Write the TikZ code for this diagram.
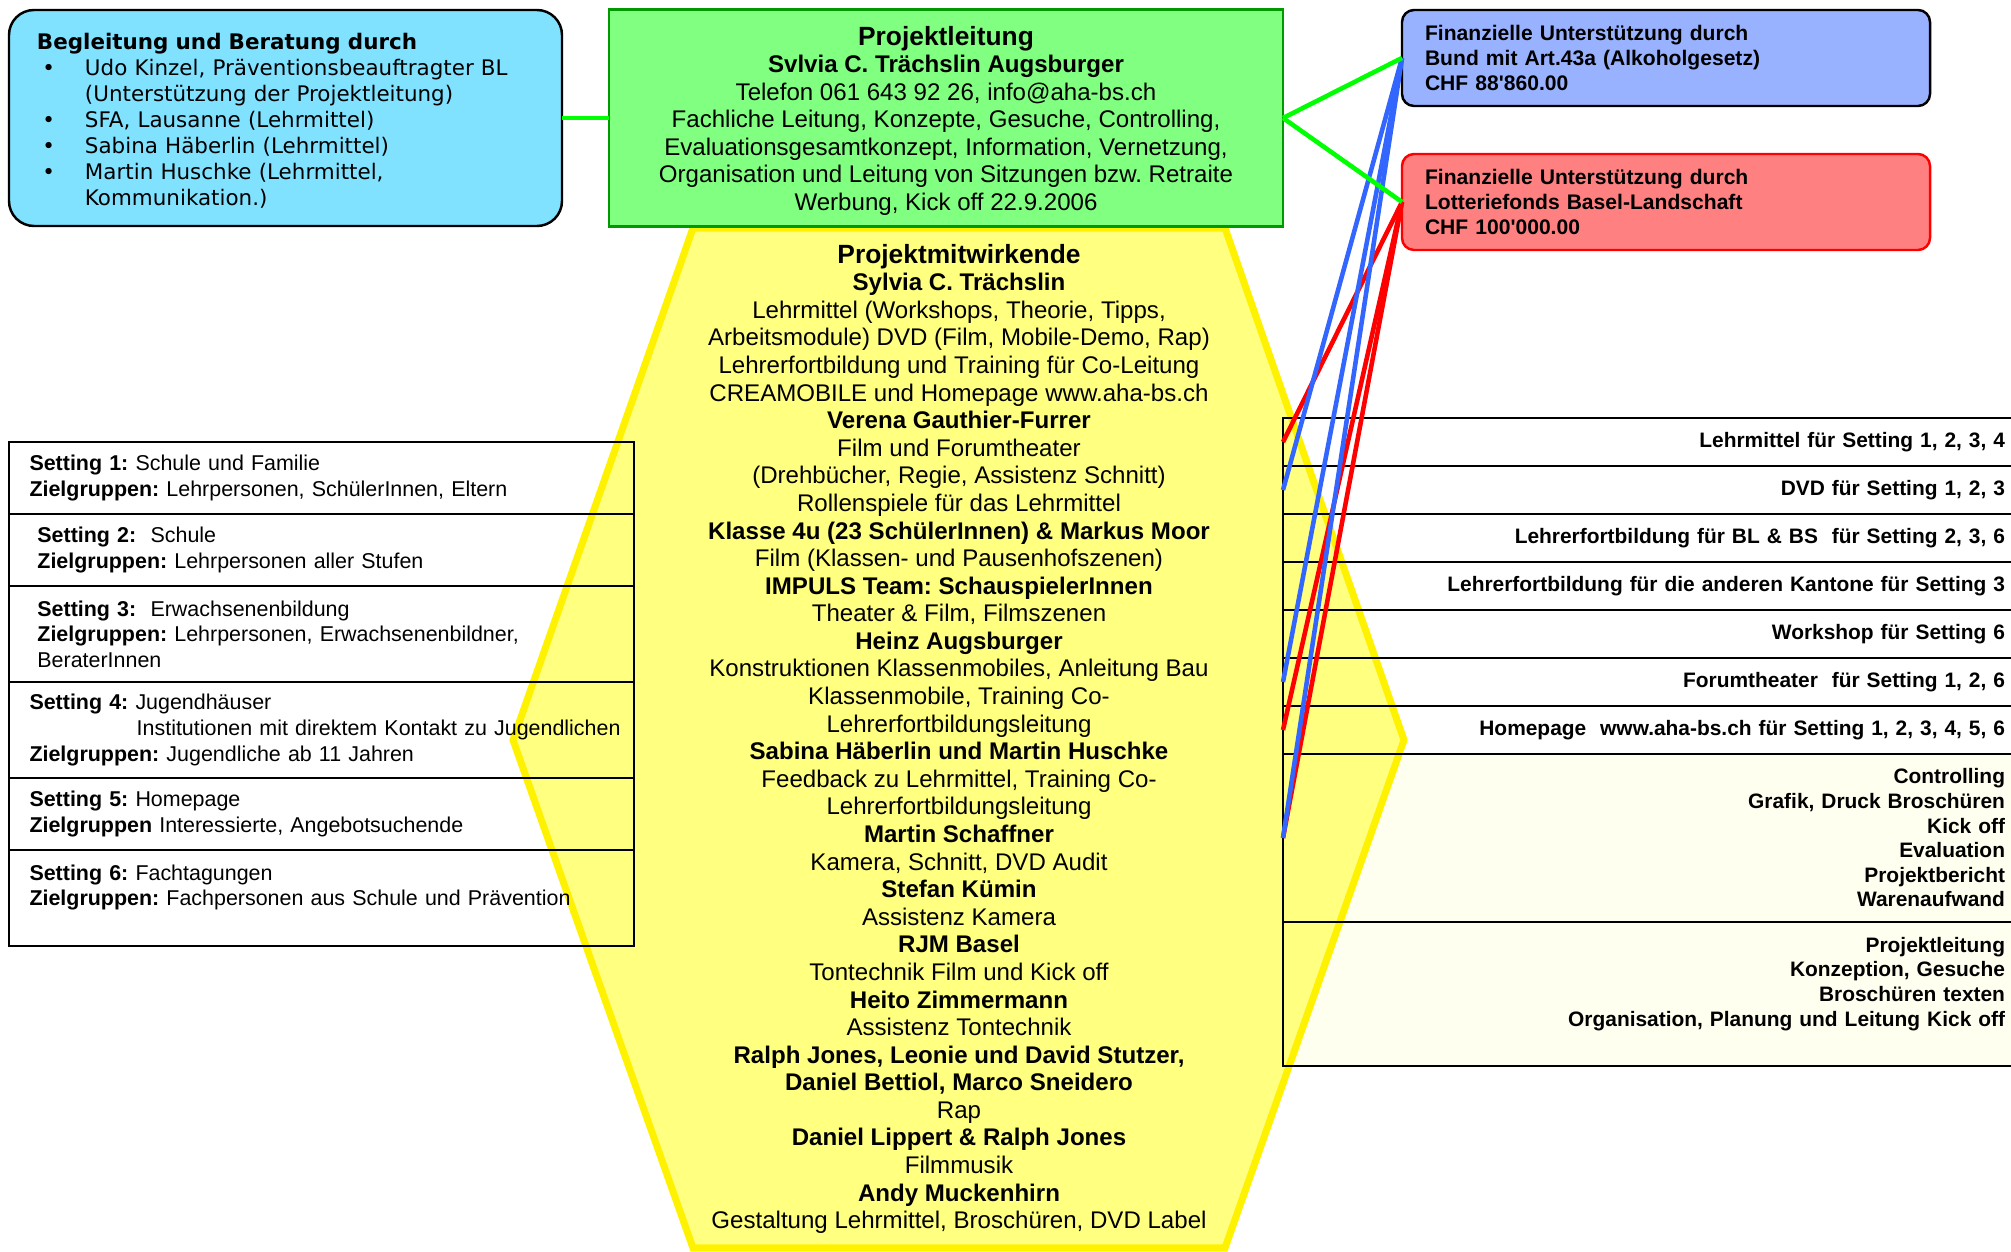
\documentclass[tikz,border=0pt]{standalone}
\usepackage{fontspec}
\setmainfont{Liberation Sans}[Ligatures=TeXOff]
\newfontfamily\verdana{DejaVu Sans}
\usepackage{tikz}
\usetikzlibrary{positioning}
\pgfdeclarelayer{bg}
\pgfsetlayers{bg,main}
\definecolor{cyanbox}{RGB}{128,226,255}
\definecolor{greenbox}{RGB}{128,255,128}
\definecolor{greenedge}{RGB}{0,153,0}
\definecolor{bundblue}{RGB}{153,178,255}
\definecolor{lottored}{RGB}{255,128,128}
\definecolor{hexfill}{RGB}{255,255,128}
\definecolor{ivory}{RGB}{255,255,240}
\definecolor{linkblue}{RGB}{51,102,255}
\frenchspacing

\begin{document}
\begin{tikzpicture}[x=0.2mm, y=-0.2mm, node distance=9.4mm,
    every node/.style={outer sep=0pt},
    begbox/.style={draw, line width=1.4pt, rounded corners=5mm, fill=cyanbox, minimum width=110.6mm, minimum height=43.2mm, text width=99.4mm, inner xsep=5.6mm, align=left, font=\verdana\fontsize{12.2}{14.8}\selectfont},
    plbox/.style={draw=greenedge, line width=1.2pt, fill=greenbox, minimum width=134.8mm, minimum height=43.4mm, align=center, font=\fontsize{13.7}{15.7}\selectfont},
    fundbox/.style={draw, line width=1.4pt, rounded corners=2.4mm, minimum width=105.6mm, minimum height=19.2mm, text width=96.4mm, inner xsep=4.6mm, align=left, font=\bfseries\fontsize{12}{14}\selectfont},
    setbox/.style={draw, line width=1.5pt, minimum width=125mm, text width=116.8mm, inner xsep=4.1mm, align=left, font=\fontsize{12.2}{14.6}\selectfont},
    rowbox/.style={draw, line width=1.5pt, minimum width=146.6mm, minimum height=9.6mm, text width=142.2mm, inner xsep=2.2mm, align=right, font=\bfseries\fontsize{11.9}{14}\selectfont},
    hexa/.style={draw=yellow, line width=4pt, fill=hexfill, line join=miter},
    hextext/.style={align=center, inner sep=0pt, font=\fontsize{13.7}{15.7}\selectfont},
    link/.style={line width=2.6pt}]
    \useasboundingbox (0,0) rectangle (2011,1252);

    % Hexagon
    \draw[hexa] (693,228) -- (1225,228) -- (1404,740) -- (1225,1248) -- (693,1248) -- (513,740) -- cycle;
    \node[hextext, anchor=north] (mitw) at (959,244) {{\bfseries\fontsize{15}{15.7}\selectfont Projektmitwirkende}\\
        \textbf{Sylvia C. Trächslin}\\
        Lehrmittel (Workshops, Theorie, Tipps,\\
        Arbeitsmodule) DVD (Film, Mobile-Demo, Rap)\\
        Lehrerfortbildung und Training für Co-Leitung\\
        CREAMOBILE und Homepage www.aha-bs.ch\\
        \textbf{Verena Gauthier-Furrer}\\
        Film und Forumtheater\\
        (Drehbücher, Regie, Assistenz Schnitt)\\
        Rollenspiele für das Lehrmittel\\
        \textbf{Klasse 4u (23 SchülerInnen) \& Markus Moor}\\
        Film (Klassen- und Pausenhofszenen)\\
        \textbf{IMPULS Team: SchauspielerInnen}\\
        Theater \& Film, Filmszenen\\
        \textbf{Heinz Augsburger}\\
        Konstruktionen Klassenmobiles, Anleitung Bau\\
        Klassenmobile, Training Co-\\
        Lehrerfortbildungsleitung\\
        \textbf{Sabina Häberlin und Martin Huschke}\\
        Feedback zu Lehrmittel, Training Co-\\
        Lehrerfortbildungsleitung\\
        \textbf{Martin Schaffner}\\
        Kamera, Schnitt, DVD Audit\\
        \textbf{Stefan Kümin}\\
        Assistenz Kamera\\
        \textbf{RJM Basel}\\
        Tontechnik Film und Kick off\\
        \textbf{Heito Zimmermann}\\
        Assistenz Tontechnik\\
        \textbf{Ralph Jones, Leonie und David Stutzer,}\\
        \textbf{Daniel Bettiol, Marco Sneidero}\\
        Rap\\
        \textbf{Daniel Lippert \& Ralph Jones}\\
        Filmmusik\\
        \textbf{Andy Muckenhirn}\\
        Gestaltung Lehrmittel, Broschüren, DVD Label};

    % Top boxes
    \node[begbox] (beg) at (285.5,118) {\rule{0pt}{12.5pt}\textbf{Begleitung und Beratung durch}\\
        \hspace*{3pt}\makebox[24.3pt][l]{•}Udo Kinzel, Präventionsbeauftragter BL\\
        \hspace*{27.3pt}(Unterstützung der Projektleitung)\\
        \hspace*{3pt}\makebox[24.3pt][l]{•}SFA, Lausanne (Lehrmittel)\\
        \hspace*{3pt}\makebox[24.3pt][l]{•}Sabina Häberlin (Lehrmittel)\\
        \hspace*{3pt}\makebox[24.3pt][l]{•}Martin Huschke (Lehrmittel,\\
        \hspace*{27.3pt}Kommunikation.)};
    \node[plbox, right=of beg] (pl) {\rule{0pt}{14pt}{\bfseries\fontsize{15}{15.7}\selectfont Projektleitung}\\
        \textbf{Svlvia C. Trächslin Augsburger}\\
        Telefon 061 643 92 26, info@aha-bs.ch\\
        Fachliche Leitung, Konzepte, Gesuche, Controlling,\\
        Evaluationsgesamtkonzept, Information, Vernetzung,\\
        Organisation und Leitung von Sitzungen bzw. Retraite\\
        Werbung, Kick off 22.9.2006};
    \node[fundbox, fill=bundblue, anchor=north west] (bund) at (1402,10) {Finanzielle Unterstützung durch\\
        Bund mit Art.43a (Alkoholgesetz)\\
        CHF 88'860.00};
    \node[fundbox, fill=lottored, draw=red, below=9.6mm of bund] (lotto) {Finanzielle Unterstützung durch\\
        Lotteriefonds Basel-Landschaft\\
        CHF 100'000.00};

    % Settings
    \node[setbox, minimum height=14.4mm, anchor=north west] (set1) at (9,442) {\textbf{Setting 1:} Schule und Familie\\
        \textbf{Zielgruppen:} Lehrpersonen, SchülerInnen, Eltern};
    \node[setbox, minimum height=14.4mm, below=0pt of set1] (set2) {\hspace*{4.5pt}\textbf{Setting 2:}~ Schule\\
        \hspace*{4.5pt}\textbf{Zielgruppen:} Lehrpersonen aller Stufen};
    \node[setbox, minimum height=19.2mm, below=0pt of set2] (set3) {\hspace*{4.5pt}\textbf{Setting 3:}~ Erwachsenenbildung\\
        \hspace*{4.5pt}\textbf{Zielgruppen:} Lehrpersonen, Erwachsenenbildner,\\
        \hspace*{4.5pt}BeraterInnen};
    \node[setbox, minimum height=19.2mm, below=0pt of set3] (set4) {\textbf{Setting 4:} Jugendhäuser\\
        \hspace*{61pt}\makebox[0pt][l]{Institutionen mit direktem Kontakt zu Jugendlichen}\\
        \textbf{Zielgruppen:} Jugendliche ab 11 Jahren};
    \node[setbox, minimum height=14.4mm, below=0pt of set4] (set5) {\textbf{Setting 5:} Homepage\\
        \textbf{Zielgruppen} Interessierte, Angebotsuchende};
    \node[setbox, minimum height=19.2mm, below=0pt of set5] (set6) {\textbf{Setting 6:} Fachtagungen\\
        \textbf{Zielgruppen:} Fachpersonen aus Schule und Prävention\\
        \mbox{}};

    % Products
    \node[rowbox, anchor=north west] (r1) at (1283,418) {Lehrmittel für Setting 1, 2, 3, 4};
    \node[rowbox, below=0pt of r1] (r2) {DVD für Setting 1, 2, 3};
    \node[rowbox, below=0pt of r2] (r3) {Lehrerfortbildung für BL \& BS~ für Setting 2, 3, 6};
    \node[rowbox, below=0pt of r3] (r4) {Lehrerfortbildung für die anderen Kantone für Setting 3};
    \node[rowbox, below=0pt of r4] (r5) {Workshop für Setting 6};
    \node[rowbox, below=0pt of r5] (r6) {Forumtheater~ für Setting 1, 2, 6};
    \node[rowbox, below=0pt of r6] (r7) {Homepage~ www.aha-bs.ch für Setting 1, 2, 3, 4, 5, 6};
    \node[rowbox, minimum height=33.6mm, below=0pt of r7] (ctrl) {Controlling\\
        Grafik, Druck Broschüren\\
        Kick off\\
        Evaluation\\
        Projektbericht\\
        Warenaufwand};
    \node[rowbox, minimum height=28.8mm, below=0pt of ctrl] (plb) {Projektleitung\\
        Konzeption, Gesuche\\
        Broschüren texten\\
        Organisation, Planung und Leitung Kick off\\
        \mbox{}};
    \begin{pgfonlayer}{bg}
        \fill[ivory] (ctrl.north west) rectangle (plb.south east);
    \end{pgfonlayer}

    % Lines
    \draw[link, red] (lotto.west) -- (r1.west);
    \draw[link, red] (lotto.west) -- (r7.west);
    \draw[link, red] (lotto.west) -- (ctrl.west);
    \draw[link, linkblue] (bund.west) -- (r2.west);
    \draw[link, linkblue] (bund.west) -- (r6.west);
    \draw[link, linkblue] (bund.west) -- (ctrl.west);
    \draw[link, green] (beg.east) -- (pl.west);
    \draw[link, green] (pl.east) -- (bund.west);
    \draw[link, green] (pl.east) -- (lotto.west);
\end{tikzpicture}
\end{document}
